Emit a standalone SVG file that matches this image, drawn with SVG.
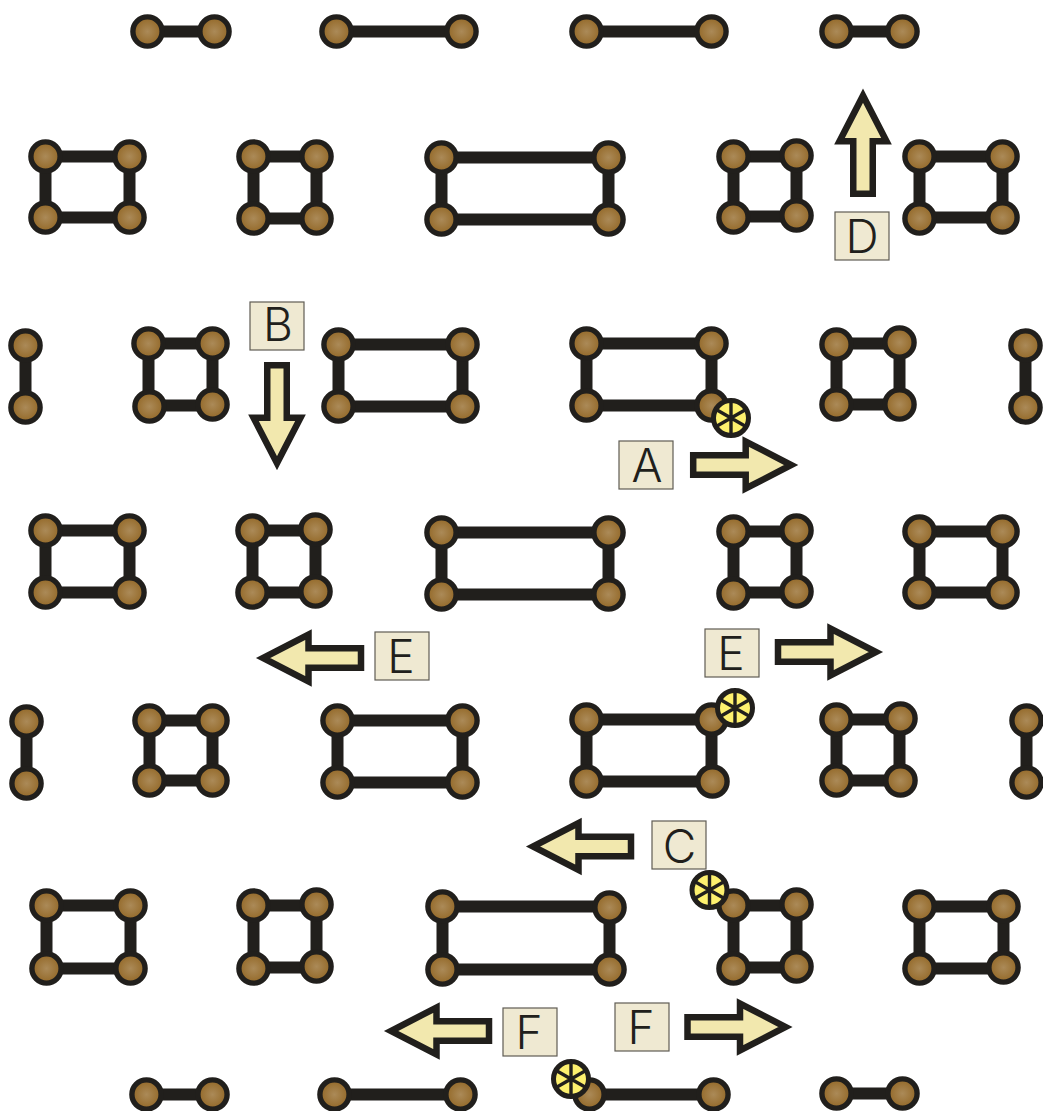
<svg xmlns="http://www.w3.org/2000/svg" width="1043" height="1111" viewBox="0 0 1043 1111">
<style>
.b{fill:none;stroke:#211f1c;stroke-width:12;transform:translate(.5px,.5px)}
.n{fill:url(#g);stroke:#211f1c;stroke-width:5.4}
.a{fill:#f2e8ae;stroke:#211f1c;stroke-width:6.5;stroke-miterlimit:10}
.l{fill:#efe9d2;stroke:#5f5c54;stroke-width:1.2}
.t{font-family:"Inter","Liberation Sans",Arial,sans-serif;font-weight:300;font-size:46px;fill:#211f1c;text-anchor:middle}
.w{fill:#fdf06e;stroke:#211f1c;stroke-width:5}
.s{stroke:#211f1c;stroke-width:3.4}
.r{transform:translate(.5px,.5px)}
</style>
<defs>
<radialGradient id="g"><stop offset="0" stop-color="#ab8a58"/><stop offset="1" stop-color="#936827"/></radialGradient>
<circle id="c" class="n" r="14.6"/>
<path id="ar" class="a" d="M0,-9.75H52.5V-23.5L98,0L52.5,23.5V9.75H0Z"/>
<g id="wh"><circle class="w" r="17.5"/><path class="s" d="M0,-16V16M-14,-8L14,8M-14,8L14,-8"/></g>
</defs>
<g id="connectors">
<path class="b" d="M147,31H214M336,31H461M586,31H711M836,31H902"/>
<path class="b" d="M45,156H129V217H45ZM253,156H316V218H253ZM441,157H608V219H441ZM733,156H796V216H733ZM919,156H1002V217H919Z"/>
<path class="b" d="M25,345V407M148,343H212V405H148ZM338,344H462V406H338ZM586,343H711V405H586ZM836,343H899V404H836ZM1025,345V407"/>
<path class="b" d="M45,530H129V592H45ZM252,530H315V592H252ZM441,532H608V594H441ZM733,531H796V592H733ZM919,531H1002V592H919Z"/>
<path class="b" d="M26,721V783M149,720H212V780H149ZM337,720H462V782H337ZM586,719H711V781H586ZM836,719H899V780H836ZM1026,720V782"/>
<path class="b" d="M46,905H130V968H46ZM253,905H316V967H253ZM442,906H609V969H442ZM733,905H796V967H733ZM919,906H1003V968H919Z"/>
<path class="b" d="M146,1094H212M334,1094H460M589,1094H713M836,1093H902"/>
</g>
<g id="nodes-row0" class="r"><use href="#c" x="147" y="31"/><use href="#c" x="214" y="31"/><use href="#c" x="336" y="31"/><use href="#c" x="461" y="31"/><use href="#c" x="586" y="31"/><use href="#c" x="711" y="31"/><use href="#c" x="836" y="31"/><use href="#c" x="902" y="31"/></g>
<g id="nodes-row1" class="r"><use href="#c" x="45" y="156"/><use href="#c" x="129" y="156"/><use href="#c" x="45" y="217"/><use href="#c" x="129" y="217"/><use href="#c" x="253" y="156"/><use href="#c" x="316" y="156"/><use href="#c" x="253" y="218"/><use href="#c" x="316" y="218"/><use href="#c" x="441" y="157"/><use href="#c" x="608" y="157"/><use href="#c" x="441" y="219"/><use href="#c" x="608" y="219"/><use href="#c" x="733" y="156"/><use href="#c" x="796" y="155"/><use href="#c" x="733" y="217"/><use href="#c" x="796" y="215"/><use href="#c" x="919" y="156"/><use href="#c" x="1002" y="156"/><use href="#c" x="919" y="218"/><use href="#c" x="1002" y="217"/></g>
<g id="nodes-row2" class="r"><use href="#c" x="25" y="345"/><use href="#c" x="25" y="407"/><use href="#c" x="148" y="343"/><use href="#c" x="212" y="343"/><use href="#c" x="149" y="406"/><use href="#c" x="212" y="404"/><use href="#c" x="338" y="344"/><use href="#c" x="462" y="344"/><use href="#c" x="338" y="406"/><use href="#c" x="462" y="406"/><use href="#c" x="586" y="343"/><use href="#c" x="711" y="343"/><use href="#c" x="586" y="405"/><use href="#c" x="711" y="405"/><use href="#c" x="836" y="344"/><use href="#c" x="899" y="342"/><use href="#c" x="836" y="404"/><use href="#c" x="899" y="404"/><use href="#c" x="1025" y="345"/><use href="#c" x="1025" y="407"/></g>
<g id="nodes-row3" class="r"><use href="#c" x="45" y="530"/><use href="#c" x="129" y="530"/><use href="#c" x="45" y="592"/><use href="#c" x="129" y="592"/><use href="#c" x="252" y="530"/><use href="#c" x="315" y="529"/><use href="#c" x="252" y="592"/><use href="#c" x="315" y="591"/><use href="#c" x="441" y="532"/><use href="#c" x="608" y="532"/><use href="#c" x="441" y="594"/><use href="#c" x="608" y="594"/><use href="#c" x="733" y="531"/><use href="#c" x="796" y="530"/><use href="#c" x="733" y="593"/><use href="#c" x="796" y="591"/><use href="#c" x="919" y="531"/><use href="#c" x="1002" y="531"/><use href="#c" x="919" y="592"/><use href="#c" x="1002" y="592"/></g>
<g id="nodes-row4" class="r"><use href="#c" x="26" y="721"/><use href="#c" x="26" y="783"/><use href="#c" x="149" y="720"/><use href="#c" x="212" y="720"/><use href="#c" x="149" y="780"/><use href="#c" x="212" y="780"/><use href="#c" x="337" y="720"/><use href="#c" x="462" y="720"/><use href="#c" x="337" y="782"/><use href="#c" x="462" y="782"/><use href="#c" x="586" y="719"/><use href="#c" x="711" y="719"/><use href="#c" x="586" y="781"/><use href="#c" x="712" y="781"/><use href="#c" x="836" y="719"/><use href="#c" x="900" y="718"/><use href="#c" x="836" y="780"/><use href="#c" x="900" y="780"/><use href="#c" x="1026" y="720"/><use href="#c" x="1026" y="782"/></g>
<g id="nodes-row5" class="r"><use href="#c" x="46" y="905"/><use href="#c" x="130" y="905"/><use href="#c" x="46" y="968"/><use href="#c" x="130" y="968"/><use href="#c" x="253" y="905"/><use href="#c" x="316" y="904"/><use href="#c" x="253" y="968"/><use href="#c" x="316" y="966"/><use href="#c" x="442" y="906"/><use href="#c" x="609" y="907"/><use href="#c" x="442" y="969"/><use href="#c" x="609" y="969"/><use href="#c" x="733" y="905"/><use href="#c" x="796" y="904"/><use href="#c" x="733" y="968"/><use href="#c" x="796" y="966"/><use href="#c" x="919" y="906"/><use href="#c" x="1003" y="906"/><use href="#c" x="919" y="968"/><use href="#c" x="1003" y="967"/></g>
<g id="nodes-row6" class="r"><use href="#c" x="146" y="1094"/><use href="#c" x="212" y="1094"/><use href="#c" x="334" y="1094"/><use href="#c" x="460" y="1094"/><use href="#c" x="589" y="1094"/><use href="#c" x="713" y="1094"/><use href="#c" x="836" y="1093"/><use href="#c" x="902" y="1093"/></g>
<g id="arrows">
<use href="#ar" transform="translate(693.2,465)"/>
<use href="#ar" transform="translate(778,652)"/>
<use href="#ar" transform="translate(687.5,1027)"/>
<use href="#ar" transform="translate(361,658) rotate(180)"/>
<use href="#ar" transform="translate(631,846.5) rotate(180)"/>
<use href="#ar" transform="translate(489,1031) rotate(180)"/>
<use href="#ar" transform="translate(863,193.7) rotate(-90)"/>
<use href="#ar" transform="translate(277,365.2) rotate(90)"/>
</g>
<g id="wheels">
<use href="#wh" x="731" y="418"/><use href="#wh" x="735" y="708"/><use href="#wh" x="709.5" y="890"/><use href="#wh" x="571" y="1079"/>
</g>
<g id="label-A"><rect class="l" x="619" y="441" width="54" height="48"/><text class="t" x="647" y="482">A</text></g>
<g id="label-B"><rect class="l" x="250" y="302" width="54" height="48"/><text class="t" x="278" y="341">B</text></g>
<g id="label-C"><rect class="l" x="652" y="821" width="54" height="48"/><text class="t" x="679.5" y="862.5">C</text></g>
<g id="label-D"><rect class="l" x="835" y="212" width="54" height="48"/><text class="t" x="862" y="253">D</text></g>
<g id="label-E1"><rect class="l" x="375" y="632" width="54" height="48"/><text class="t" x="401" y="673">E</text></g>
<g id="label-E2"><rect class="l" x="705" y="629" width="54" height="48"/><text class="t" x="731" y="670">E</text></g>
<g id="label-F1"><rect class="l" x="503" y="1008" width="54" height="48"/><text class="t" x="529" y="1049">F</text></g>
<g id="label-F2"><rect class="l" x="615" y="1003" width="54" height="48"/><text class="t" x="641" y="1044">F</text></g>
</svg>
